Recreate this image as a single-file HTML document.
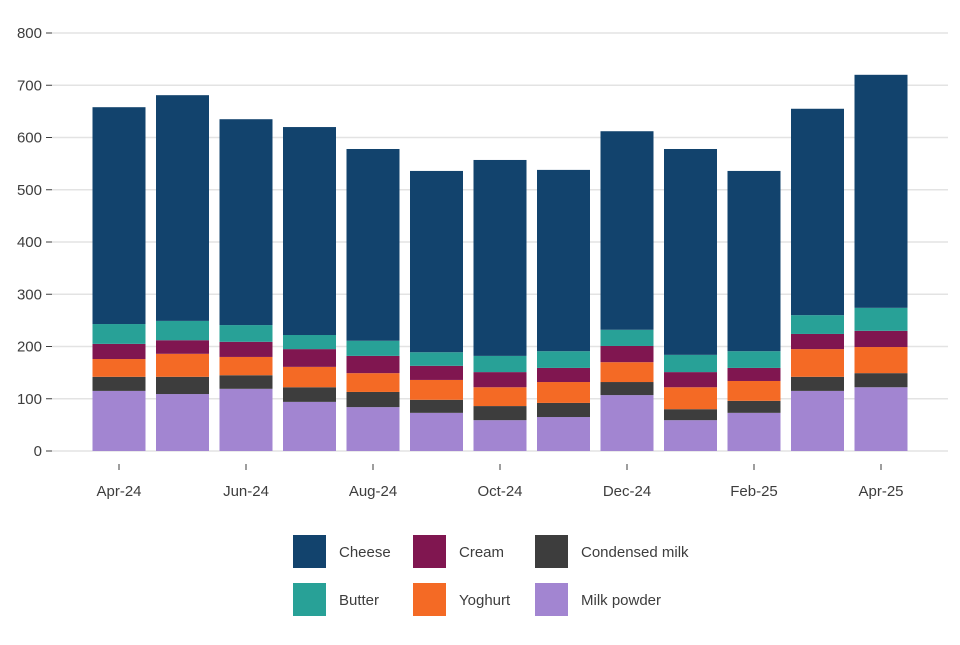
<!DOCTYPE html>
<html><head><meta charset="utf-8"><style>
body{margin:0;background:#fff;font-family:"Liberation Sans",Arial,sans-serif}
svg text{font-family:"Liberation Sans",Arial,sans-serif;fill:#3d3d3d;font-size:15px}
</style></head><body>
<svg id="chart" width="960" height="640" viewBox="0 0 960 640"></svg>
<script>
const months = ["Apr-24","May-24","Jun-24","Jul-24","Aug-24","Sep-24","Oct-24","Nov-24","Dec-24","Jan-25","Feb-25","Mar-25","Apr-25"];
const milkPowder = [115,109,119,94,84,73,59,65,107,59,73,115,122];
const condensedMilk = [27,33,26,28,29,25,27,27,25,21,23,27,27];
const yoghurt = [34,44,35,39,36,38,36,40,38,42,38,53,50];
const cream = [29,26,29,34,33,27,29,27,31,29,25,29,31];
const butter = [38,37,32,27,29,26,31,32,31,33,32,36,44];
const cheese = [415,432,394,398,367,347,375,347,380,394,345,395,446];
const yTicks = [0,100,200,300,400,500,600,700,800];
const seriesNames = ["Milk powder","Condensed milk","Yoghurt","Cream","Butter","Cheese"];
const seriesColors = ["#a285d1","#3d3d3d","#f46a25","#801650","#28a197","#12436d"];
const seriesData = [milkPowder,condensedMilk,yoghurt,cream,butter,cheese];

const svg = document.getElementById('chart');
const NS = "http://www.w3.org/2000/svg";
const y = v => 451 - v * 0.5225;
const x = i => 119 + i * 63.5;
const bw = 53;
function mk(tag, attrs, parent){const e=document.createElementNS(NS,tag);for(const k in attrs)e.setAttribute(k,attrs[k]);(parent||svg).appendChild(e);return e;}

yTicks.forEach(t=>{
  const g = mk('line',{x1:52,x2:948,y1:y(t),y2:y(t),stroke:'#e3e3e3','stroke-width':1.5});
  
  
  const tk = mk('line',{x1:46,x2:52,y1:y(t),y2:y(t),stroke:'#3d3d3d','stroke-width':1});
  
  
  const lb = mk('text',{x:42,y:y(t)+5,'text-anchor':'end'});
  lb.textContent = t;
  
  
});

months.forEach((m,i)=>{
  let base = 0;
  seriesData.forEach((s,k)=>{
    const v = s[i];
    const r = mk('rect',{x:x(i)-bw/2,y:y(base+v),width:bw,height:y(base)-y(base+v),fill:seriesColors[k]});
    
    
    base += v;
  });
  if(i%2===0){
    const tk = mk('line',{x1:x(i),x2:x(i),y1:464,y2:470,stroke:'#3d3d3d','stroke-width':1});
    
    
    const lb = mk('text',{x:x(i),y:496,'text-anchor':'middle'});
    lb.textContent = m;
    
    
  }
});

const legendOrder = [[5,293,535],[3,413,535],[1,535,535],[4,293,583],[2,413,583],[0,535,583]];
legendOrder.forEach(([k,lx,ly])=>{
  const r = mk('rect',{x:lx,y:ly,width:33,height:33,fill:seriesColors[k]});
  
  
  const t = mk('text',{x:lx+46,y:ly+22,'font-size':'16'});
  t.textContent = seriesNames[k];
  
  
});
</script>
</body></html>
